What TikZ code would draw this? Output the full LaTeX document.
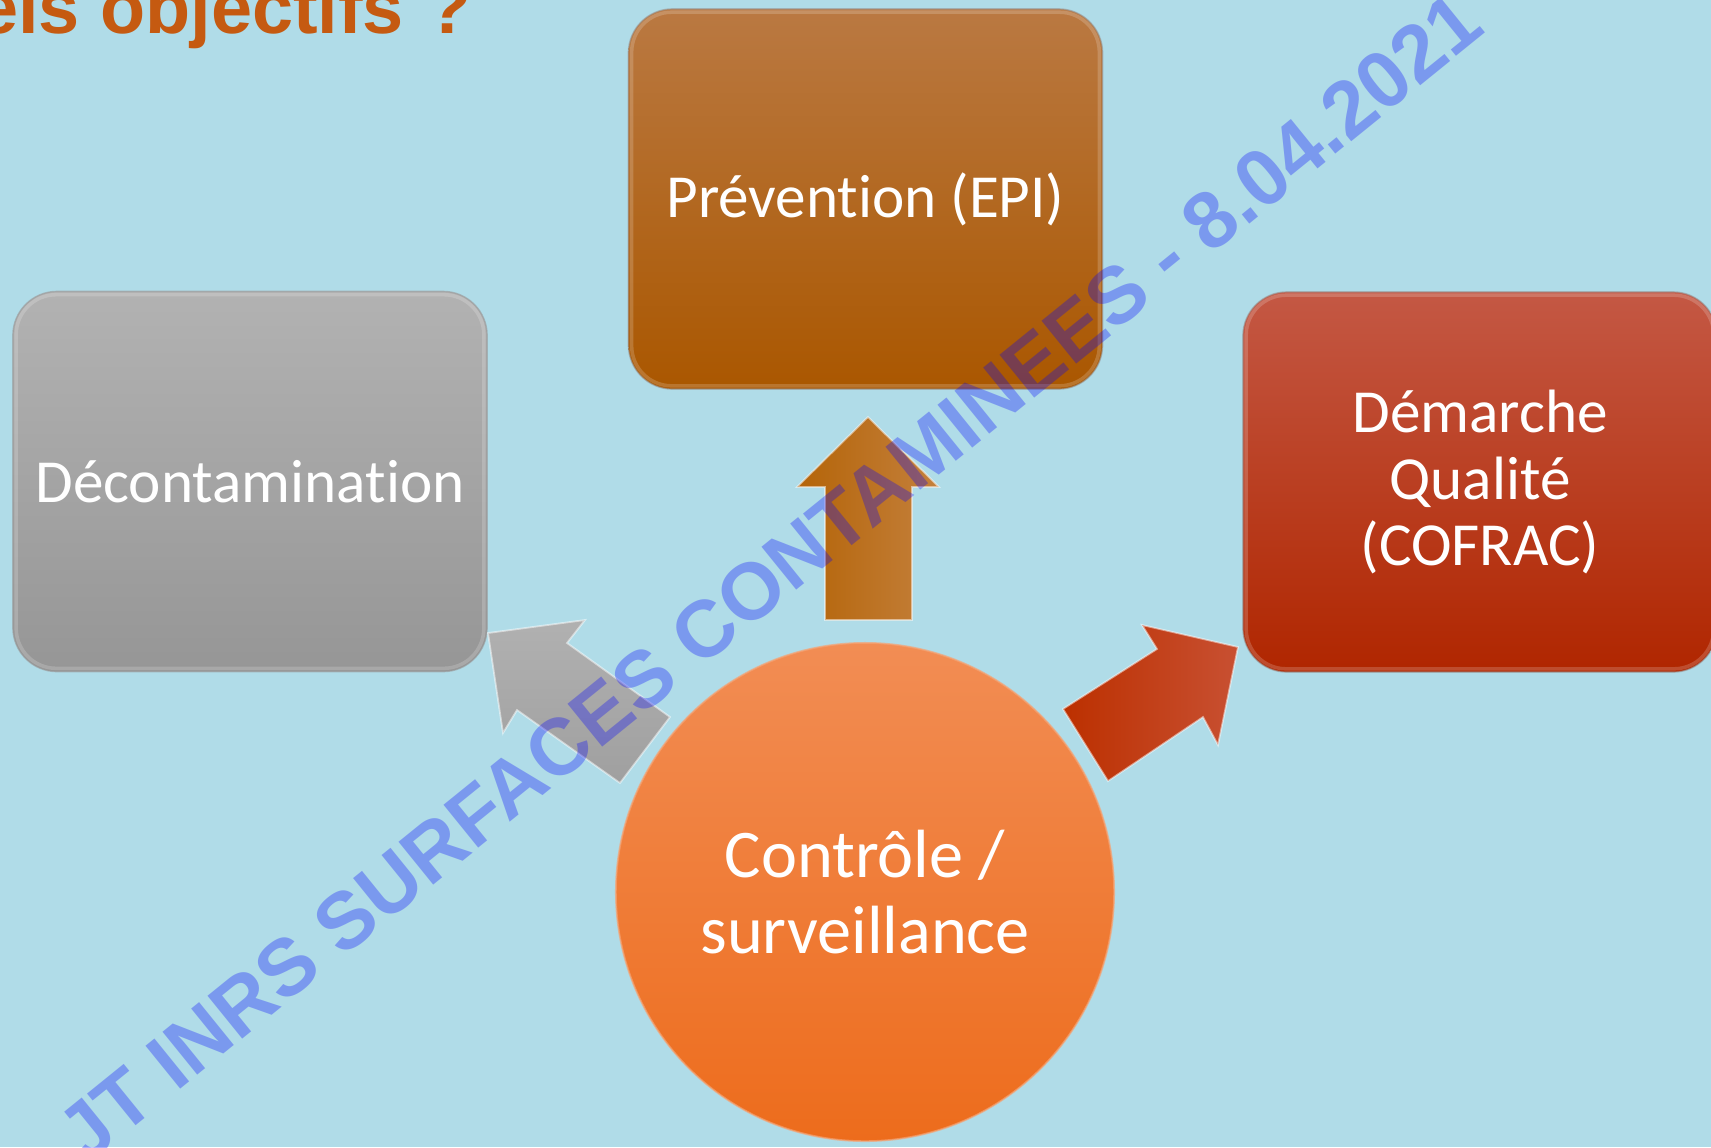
\documentclass[tikz,border=0pt]{standalone}
\usepackage{fontspec}
\usepackage{tikz}
\usetikzlibrary{positioning}

\newfontfamily\boxfont[Ligatures=NoCommon]{Carlito}
\newfontfamily\wmfont{Liberation Sans}

\definecolor{bgblue}{RGB}{176,220,232}
\definecolor{titleor}{RGB}{197,90,17}
\definecolor{prevtop}{RGB}{186,121,66}
\definecolor{prevbot}{RGB}{170,87,0}
\definecolor{decotop}{RGB}{178,178,178}
\definecolor{decobot}{RGB}{150,150,150}
\definecolor{qualtop}{RGB}{196,88,68}
\definecolor{qualbot}{RGB}{176,38,0}
\definecolor{ctrltop}{RGB}{242,141,84}
\definecolor{ctrlbot}{RGB}{237,108,28}
\definecolor{uparr}{RGB}{180,100,8}
\definecolor{uparrhi}{RGB}{196,128,60}
\definecolor{grayarr}{RGB}{168,168,168}
\definecolor{redarr}{RGB}{188,48,0}
\definecolor{redarrhi}{RGB}{200,80,50}

\tikzset{
	objbox/.style={rounded corners=0.44cm, minimum width=4.74cm, minimum height=3.8cm,
		text=white, align=center, draw=black!40, draw opacity=0.6, line width=0.4pt,
		font=\boxfont\fontsize{17.4pt}{18.9pt}\selectfont},
	gloss/.style={draw=white, draw opacity=0.18, line width=1pt},
	blockarrow/.style={draw=white, draw opacity=0.5, line width=0.5pt, line join=miter}
}

\begin{document}
\begin{tikzpicture}[x=0.01cm, y=-0.01cm]
	\useasboundingbox (0,0) rectangle (1711,1147);
	\clip (0,0) rectangle (1711,1147);
	\fill[bgblue] (0,0) rectangle (1711,1147);

	\node[anchor=base east, inner sep=0, text=titleor,
		font=\wmfont\bfseries\fontsize{21pt}{21pt}\selectfont] (title) at (472,33) {Quels objectifs\hspace{0.3em}?};

	% the three boxes
	\node[objbox, top color=prevtop, bottom color=prevbot] (prev) at (865.5,199) {Prévention (EPI)};
	\node[objbox, top color=decotop, bottom color=decobot] (deco) at (250,481.5) {Décontamination};
	\node[objbox, top color=qualtop, bottom color=qualbot] (qual) at (1480,482) {Démarche\\Qualité\\(COFRAC)};
	\foreach \b in {prev,deco,qual}
		\draw[gloss, rounded corners=0.4cm] ([shift={(4,4)}]\b.north west) rectangle ([shift={(-4,-4)}]\b.south east);

	\node[circle, minimum size=4.98cm, top color=ctrltop, bottom color=ctrlbot, draw=ctrltop!80!white,
		draw opacity=0.7, line width=0.5pt, text=white, align=center,
		font=\boxfont\fontsize{19.4pt}{21.8pt}\selectfont] (ctrl) at (865,892) {Contrôle /\\surveillance};

	% arrows out of the circle
	\shade[blockarrow, left color=uparr, middle color=uparr, right color=uparrhi]
		(868,417) -- (939,487) -- (912,487) -- (912,620) -- (825,620) -- (825,487) -- (797,487) -- cycle;
	\shade[blockarrow, top color=grayarr!90!white, bottom color=grayarr!95!black]
		(488,633) -- (585,620) -- (567,643) -- (670,717) -- (620,783) -- (517,710) -- (503,733) -- cycle;
	\shade[blockarrow, left color=redarr, middle color=redarr, right color=redarrhi]
		(1063,709) -- (1157,649) -- (1142,625) -- (1238,647) -- (1218,745) -- (1203,717) -- (1108,781) -- cycle;

	\node[anchor=base west, inner sep=0, rotate=39, text=blue, text opacity=0.3,
		font=\wmfont\bfseries\fontsize{22.8pt}{22.8pt}\selectfont] (wmark) at (86,1166) {JT INRS SURFACES CONTAMINEES - 8.04.2021};
\end{tikzpicture}
\end{document}
